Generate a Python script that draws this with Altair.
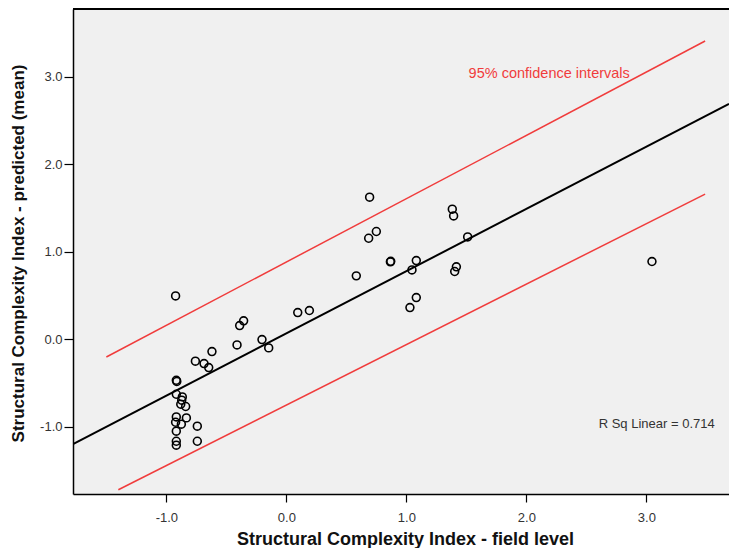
import altair as alt
import pandas as pd

# Scatter points (field level, predicted mean)
field_level = [
    -0.923, -0.917, -0.913, -0.917, -0.867, -0.872, -0.880, -0.839, -0.917, -0.833,
    -0.923, -0.875, -0.742, -0.917, -0.917, -0.917, -0.742,
    -0.758, -0.686, -0.647, -0.620, -0.411, -0.389, -0.356, -0.203, -0.147,
    0.095, 0.192, 0.583, 0.694, 0.686, 0.750, 0.867, 0.870, 1.083, 1.047,
    1.083, 1.030, 1.383, 1.394, 1.511, 1.417, 1.403, 3.047,
]
predicted = [
    0.495, -0.469, -0.482, -0.629, -0.659, -0.697, -0.743, -0.769, -0.888, -0.899,
    -0.949, -0.971, -0.994, -1.051, -1.166, -1.211, -1.166,
    -0.251, -0.278, -0.324, -0.141, -0.065, 0.156, 0.210, -0.004, -0.099,
    0.305, 0.328, 0.724, 1.623, 1.154, 1.231, 0.884, 0.890, 0.899, 0.792,
    0.476, 0.362, 1.486, 1.409, 1.169, 0.827, 0.774, 0.888,
]

# Fit line and 95% interval lines (end points)
fit_x = [-1.778, 3.689]
fit_y = [-1.198, 2.690]
upper_x = [-1.50, 3.49]
upper_y = [-0.203, 3.408]
lower_x = [-1.40, 3.49]
lower_y = [-1.720, 1.659]

x_ticks = [-1.0, 0.0, 1.0, 2.0, 3.0]
y_ticks = [-1.0, 0.0, 1.0, 2.0, 3.0]
x_domain = [-1.778, 3.689]
y_domain = [-1.769, 3.774]

ann_text = ["95% confidence intervals", "R Sq Linear = 0.714"]
ann_x = [1.519, 2.603]
ann_y = [3.029, -0.971]
ann_color = ["#f03c3c", "#333333"]
ann_size = [14.5, 13]

FONT = "Liberation Sans"
label_expr = "datum.value < 0 ? '-' + format(abs(datum.value), '.1f') : format(datum.value, '.1f')"

pts = pd.DataFrame({"x": field_level, "y": predicted})
fit = pd.DataFrame({"x": fit_x, "y": fit_y})
up = pd.DataFrame({"x": upper_x, "y": upper_y})
lo = pd.DataFrame({"x": lower_x, "y": lower_y})
ann = pd.DataFrame({"t": ann_text, "x": ann_x, "y": ann_y, "c": ann_color, "s": ann_size})

xs = alt.Scale(domain=x_domain, nice=False, zero=False)
ys = alt.Scale(domain=y_domain, nice=False, zero=False)

x_axis = alt.Axis(
    values=x_ticks, labelExpr=label_expr, title="Structural Complexity Index - field level",
    grid=False, domainColor="#000000", domainWidth=1.5, tickColor="#000000", tickWidth=1.2,
    tickSize=8, labelFont=FONT, labelFontSize=13, labelColor="#333333", labelPadding=9,
    titleFont=FONT, titleFontSize=18, titleFontWeight="bold", titleColor="#111111",
    titleX=332, titleY=45, titleBaseline="middle",
)
y_axis = alt.Axis(
    values=y_ticks, labelExpr=label_expr, title="Structural Complexity Index - predicted (mean)",
    grid=False, domainColor="#000000", domainWidth=1.5, tickColor="#000000", tickWidth=1.2,
    tickSize=9, labelFont=FONT, labelFontSize=13, labelColor="#333333", labelPadding=2,
    titleFont=FONT, titleFontSize=17, titleFontWeight="bold", titleColor="#111111",
    titleX=-55, titleY=244, titleBaseline="middle",
)

points = alt.Chart(pts).mark_point(
    shape="circle", filled=False, size=62, color="#000000", strokeWidth=1.6, opacity=1
).encode(
    x=alt.X("x:Q", scale=xs, axis=x_axis),
    y=alt.Y("y:Q", scale=ys, axis=y_axis),
)

fit_line = alt.Chart(fit).mark_line(color="#000000", strokeWidth=2, clip=True).encode(
    x=alt.X("x:Q", scale=xs), y=alt.Y("y:Q", scale=ys)
)
up_line = alt.Chart(up).mark_line(color="#f03c3c", strokeWidth=1.5, clip=True).encode(
    x=alt.X("x:Q", scale=xs), y=alt.Y("y:Q", scale=ys)
)
lo_line = alt.Chart(lo).mark_line(color="#f03c3c", strokeWidth=1.5, clip=True).encode(
    x=alt.X("x:Q", scale=xs), y=alt.Y("y:Q", scale=ys)
)

labels = alt.Chart(ann).mark_text(
    font=FONT, align="left", baseline="middle"
).encode(
    x=alt.X("x:Q", scale=xs), y=alt.Y("y:Q", scale=ys),
    text="t:N", color=alt.Color("c:N", scale=None),
    size=alt.Size("s:Q", scale=None, legend=None),
)

top_border = alt.Chart(pts).mark_rule(color="#000000", strokeWidth=1.2).encode(
    x=alt.value(0), x2=alt.value(656), y=alt.value(0)
)

chart = alt.layer(
    up_line, lo_line, fit_line, points, labels, top_border
).properties(
    width=656, height=485,
    autosize=alt.AutoSizeParams(type="none"),
    padding={"left": 73, "top": 9, "right": 0, "bottom": 54},
    background="#ffffff",
).configure_view(
    fill="#f0f0f0", stroke=None
)

chart.save("out.html", embed_options={"renderer": "svg", "actions": False})
